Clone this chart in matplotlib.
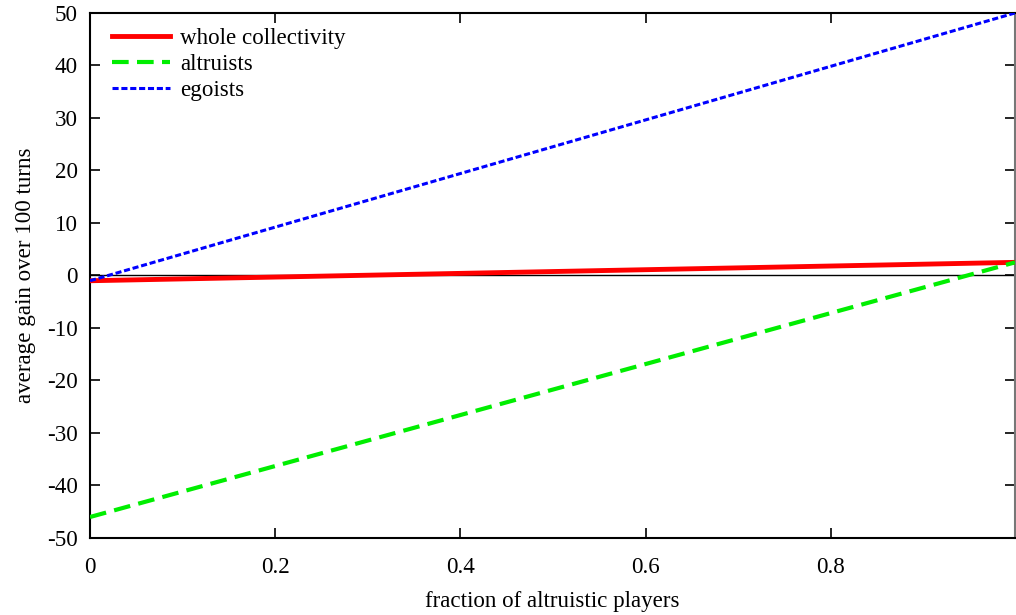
import matplotlib
matplotlib.use('Agg')
import matplotlib.pyplot as plt
import numpy as np

plt.rcParams.update({
    'font.family': ['Liberation Serif', 'DejaVu Serif'],
    'font.size': 16.6,
    'axes.linewidth': 1.5,
    'axes.unicode_minus': False,
})

# data (endpoints)
frac = [0.0, 0.999]
whole = [-1.0, 2.5]
altruists = [-46.0, 2.5]
egoists = [-1.0, 50.0]

xticks = [0, 0.2, 0.4, 0.6, 0.8]
xticklabels = ['0', '0.2', '0.4', '0.6', '0.8']
yticks = np.arange(-50, 51, 10)

fig = plt.figure(figsize=(10.16, 6.15), dpi=100)
ax = fig.add_axes([0.0886, 0.1252, 0.9104, 0.8537])

ax.axhline(0, color='black', lw=1.0, zorder=1)
ax.plot(frac, whole, color='#ff0000', lw=3.5, label='whole collectivity', zorder=3)
ax.plot(frac, altruists, color='#00ee00', lw=3.0, dashes=(4, 2), label='altruists', zorder=3)
ax.plot(frac, egoists, color='#0000ff', lw=2.2, dashes=(2, 0.9), label='egoists', zorder=4)

ax.set_xlim(0, 0.999)
ax.set_ylim(-50, 50)
ax.set_xticks(xticks)
ax.set_xticklabels(xticklabels)
ax.set_yticks(yticks)
ax.tick_params(direction='in', length=7, width=1.2, top=True, right=True, labelsize=16.6)
ax.tick_params(axis='x', pad=14)
ax.tick_params(axis='y', pad=9)
ax.spines['right'].set_color('#777777')

ax.set_xlabel('fraction of altruistic players', fontsize=16.6, labelpad=9)
ax.set_ylabel('average gain over 100 turns', fontsize=16.6, labelpad=8)

ax.legend(loc='upper left', frameon=False, fontsize=16.6, handlelength=2.5,
          labelspacing=0.22, borderaxespad=0.0, handletextpad=0.45,
          bbox_to_anchor=(0.014, 0.99))

fig.savefig('out.png', dpi=100)
